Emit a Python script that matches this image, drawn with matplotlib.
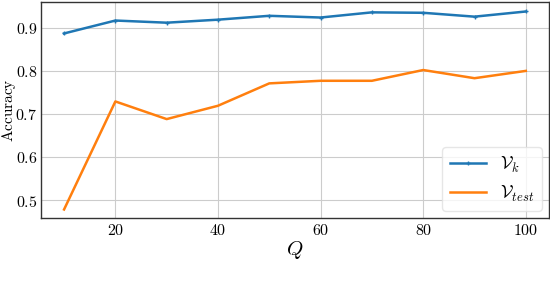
import matplotlib

matplotlib.use("Agg")

import matplotlib.pyplot as plt
from matplotlib.ticker import FuncFormatter

plt.rcParams["mathtext.fontset"] = "cm"
plt.rcParams["font.family"] = "serif"
plt.rcParams["font.serif"] = ["DejaVu Serif"]

q_values = [10, 20, 30, 40, 50, 60, 70, 80, 90, 100]
acc_vk = [0.887, 0.917, 0.912, 0.919, 0.928, 0.924, 0.936, 0.935, 0.926, 0.938]
acc_vtest = [0.478, 0.729, 0.688, 0.719, 0.771, 0.777, 0.777, 0.802, 0.783, 0.800]

fig = plt.figure(figsize=(5.5, 2.9), dpi=100)
ax = fig.add_axes([0.0745, 0.248, 0.9235, 0.745])

ax.plot(q_values, acc_vk, color="#1f77b4", linewidth=1.8, marker="+",
        markersize=3, label=r"$\mathcal{V}_k$")
ax.plot(q_values, acc_vtest, color="#ff7f0e", linewidth=1.8,
        label=r"$\mathcal{V}_{test}$")

ax.set_ylim(0.458, 0.960)
ax.set_xticks([20, 40, 60, 80, 100])
ax.set_yticks([0.5, 0.6, 0.7, 0.8, 0.9])
fmt = FuncFormatter(lambda v, pos: f"${v:g}$")
ax.xaxis.set_major_formatter(fmt)
ax.yaxis.set_major_formatter(fmt)
ax.tick_params(labelsize=11.5, length=0, pad=2.5)

ax.grid(True, color="#cccccc", linewidth=0.8)
for spine in ax.spines.values():
    spine.set_color("#333333")
    spine.set_linewidth(1.0)

ax.set_xlabel(r"$Q$", fontsize=15)
ax.set_ylabel(r"$\mathrm{Accuracy}$", fontsize=11)
ax.yaxis.set_label_coords(-0.046, 0.5)
ax.xaxis.set_label_coords(0.5, -0.095)

ax.legend(loc="lower right", fontsize=13, handlelength=2.0, framealpha=0.8,
          edgecolor="#e0e0e0", fancybox=True, borderaxespad=0.4)

fig.savefig("out.png", dpi=100)
plt.close(fig)
